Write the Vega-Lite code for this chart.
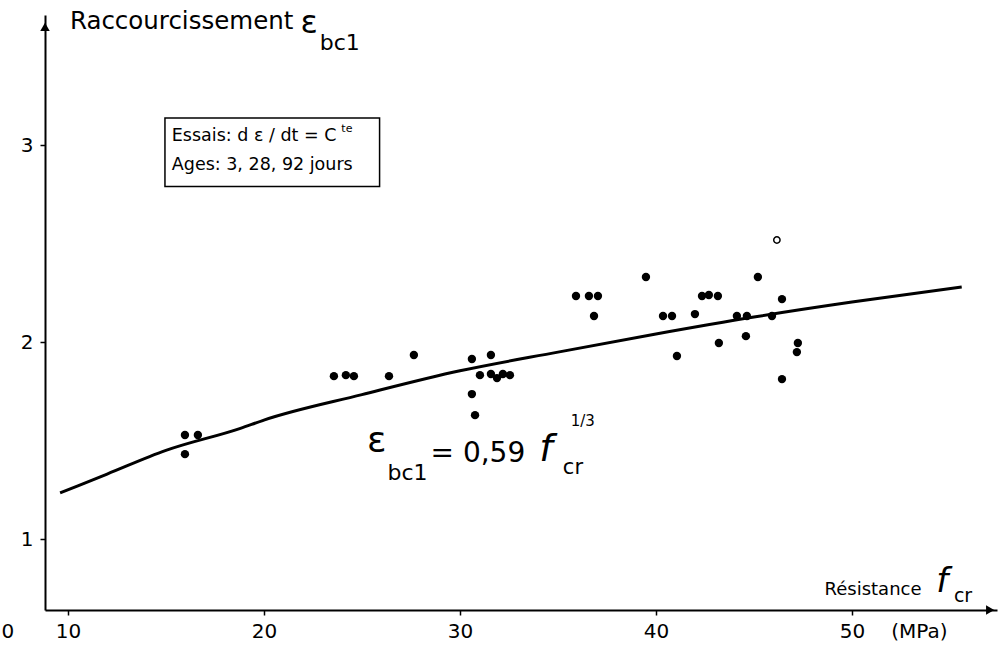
{
  "$schema": "https://vega.github.io/schema/vega-lite/v6.json",
  "autosize": "none",
  "padding": {"left": 45, "top": 15, "right": 4, "bottom": 37},
  "width": 952,
  "height": 595,
  "background": "white",
  "config": {
    "view": {"stroke": null},
    "font": "DejaVu Sans",
    "axis": {
      "grid": false,
      "domainColor": "black",
      "domainWidth": 2,
      "tickColor": "black",
      "tickWidth": 1.5,
      "tickSize": 5,
      "labelColor": "black",
      "labelFont": "DejaVu Sans",
      "labelFontSize": 20,
      "title": null
    }
  },
  "datasets": {
    "points": [
      {"fcr": 15.97, "eps": 1.528},
      {"fcr": 16.63, "eps": 1.528},
      {"fcr": 15.97, "eps": 1.431},
      {"fcr": 23.57, "eps": 1.827},
      {"fcr": 24.18, "eps": 1.832},
      {"fcr": 24.59, "eps": 1.827},
      {"fcr": 26.38, "eps": 1.827},
      {"fcr": 27.65, "eps": 1.934},
      {"fcr": 30.61, "eps": 1.914},
      {"fcr": 31.58, "eps": 1.934},
      {"fcr": 31.02, "eps": 1.832},
      {"fcr": 31.58, "eps": 1.838},
      {"fcr": 31.89, "eps": 1.817},
      {"fcr": 32.19, "eps": 1.838},
      {"fcr": 32.55, "eps": 1.832},
      {"fcr": 30.61, "eps": 1.736},
      {"fcr": 30.77, "eps": 1.629},
      {"fcr": 35.92, "eps": 2.234},
      {"fcr": 36.58, "eps": 2.234},
      {"fcr": 37.04, "eps": 2.234},
      {"fcr": 36.84, "eps": 2.132},
      {"fcr": 39.49, "eps": 2.33},
      {"fcr": 40.36, "eps": 2.132},
      {"fcr": 40.82, "eps": 2.132},
      {"fcr": 41.99, "eps": 2.142},
      {"fcr": 42.35, "eps": 2.234},
      {"fcr": 42.7, "eps": 2.239},
      {"fcr": 43.16, "eps": 2.234},
      {"fcr": 43.21, "eps": 1.995},
      {"fcr": 41.07, "eps": 1.929},
      {"fcr": 44.13, "eps": 2.132},
      {"fcr": 44.64, "eps": 2.132},
      {"fcr": 44.59, "eps": 2.03},
      {"fcr": 45.2, "eps": 2.33},
      {"fcr": 45.92, "eps": 2.132},
      {"fcr": 46.43, "eps": 2.218},
      {"fcr": 47.24, "eps": 1.995},
      {"fcr": 47.19, "eps": 1.949},
      {"fcr": 46.43, "eps": 1.812}
    ],
    "openPoints": [
      {"fcr": 46.17, "eps": 2.518}
    ],
    "curve": [
      {"fcr": 9.6, "eps": 1.234},
      {"fcr": 12, "eps": 1.33},
      {"fcr": 15, "eps": 1.45},
      {"fcr": 18.8, "eps": 1.562},
      {"fcr": 20, "eps": 1.604},
      {"fcr": 25, "eps": 1.733},
      {"fcr": 30, "eps": 1.854},
      {"fcr": 35, "eps": 1.949},
      {"fcr": 40, "eps": 2.041},
      {"fcr": 45, "eps": 2.127},
      {"fcr": 50, "eps": 2.203},
      {"fcr": 55.6, "eps": 2.279}
    ]
  },
  "layer": [
    {
      "data": {"name": "curve"},
      "mark": {"type": "line", "color": "black", "strokeWidth": 3, "interpolate": "monotone"},
      "encoding": {
        "x": {
          "field": "fcr", "type": "quantitative",
          "scale": {"domain": [8.83, 57.4], "nice": false, "zero": false},
          "axis": {"values": [10, 20, 30, 40, 50], "labelPadding": 6, "format": "d"}
        },
        "y": {
          "field": "eps", "type": "quantitative",
          "scale": {"domain": [0.64, 3.66], "nice": false, "zero": false},
          "axis": {"values": [1, 2, 3], "labelPadding": 7, "format": "d"}
        }
      }
    },
    {
      "data": {"name": "points"},
      "mark": {"type": "point", "filled": true, "color": "black", "size": 70, "opacity": 1},
      "encoding": {
        "x": {"field": "fcr", "type": "quantitative"},
        "y": {"field": "eps", "type": "quantitative"}
      }
    },
    {
      "data": {"name": "openPoints"},
      "mark": {"type": "point", "filled": false, "color": "black", "size": 40, "strokeWidth": 1.5, "opacity": 1},
      "encoding": {
        "x": {"field": "fcr", "type": "quantitative"},
        "y": {"field": "eps", "type": "quantitative"}
      }
    },
    {
      "data": {"values": [{}]},
      "mark": {"type": "point", "shape": "triangle-right", "filled": true, "color": "black", "size": 90, "opacity": 1},
      "encoding": {"x": {"datum": 57.05}, "y": {"datum": 0.64}}
    },
    {
      "data": {"values": [{}]},
      "mark": {"type": "point", "shape": "triangle-up", "filled": true, "color": "black", "size": 90, "opacity": 1},
      "encoding": {"x": {"datum": 8.83}, "y": {"datum": 3.6}}
    },
    {
      "data": {"values": [{}]},
      "mark": {"type": "rect", "fill": "white", "stroke": "black", "strokeWidth": 1.5},
      "encoding": {"x": {"datum": 14.95}, "x2": {"datum": 25.9}, "y": {"datum": 3.137}, "y2": {"datum": 2.79}}
    },
    {
      "data": {"values": [{}]},
      "mark": {"type": "text", "align": "left", "baseline": "middle", "fontSize": 17.5, "color": "black"},
      "encoding": {"x": {"datum": 15.3}, "y": {"datum": 3.045}, "text": {"value": "Essais:  d ε / dt = C"}}
    },
    {
      "data": {"values": [{}]},
      "mark": {"type": "text", "align": "left", "baseline": "middle", "fontSize": 11, "color": "black"},
      "encoding": {"x": {"datum": 23.95}, "y": {"datum": 3.08}, "text": {"value": "te"}}
    },
    {
      "data": {"values": [{}]},
      "mark": {"type": "text", "align": "left", "baseline": "middle", "fontSize": 17.5, "color": "black"},
      "encoding": {"x": {"datum": 15.3}, "y": {"datum": 2.9}, "text": {"value": "Ages: 3, 28, 92 jours"}}
    },
    {
      "data": {"values": [{}]},
      "mark": {"type": "text", "align": "left", "baseline": "middle", "fontSize": 24.5, "color": "black"},
      "encoding": {"x": {"datum": 10.1}, "y": {"datum": 3.624}, "text": {"value": "Raccourcissement"}}
    },
    {
      "data": {"values": [{}]},
      "mark": {"type": "text", "align": "center", "baseline": "middle", "fontSize": 32, "color": "black"},
      "encoding": {"x": {"datum": 22.3}, "y": {"datum": 3.62}, "text": {"value": "ε"}}
    },
    {
      "data": {"values": [{}]},
      "mark": {"type": "text", "align": "left", "baseline": "middle", "fontSize": 22, "color": "black"},
      "encoding": {"x": {"datum": 22.85}, "y": {"datum": 3.52}, "text": {"value": "bc1"}}
    },
    {
      "data": {"values": [{}]},
      "mark": {"type": "text", "align": "left", "baseline": "middle", "fontSize": 18, "color": "black"},
      "encoding": {"x": {"datum": 48.6}, "y": {"datum": 0.74}, "text": {"value": "Résistance"}}
    },
    {
      "data": {"values": [{}]},
      "mark": {"type": "text", "align": "left", "baseline": "middle", "fontSize": 34, "fontStyle": "italic", "color": "black"},
      "encoding": {"x": {"datum": 54.3}, "y": {"datum": 0.78}, "text": {"value": "f"}}
    },
    {
      "data": {"values": [{}]},
      "mark": {"type": "text", "align": "left", "baseline": "middle", "fontSize": 19, "color": "black"},
      "encoding": {"x": {"datum": 55.2}, "y": {"datum": 0.71}, "text": {"value": "cr"}}
    },
    {
      "data": {"values": [{}]},
      "mark": {"type": "text", "align": "center", "baseline": "middle", "fontSize": 20, "color": "black"},
      "encoding": {"x": {"datum": 6.94}, "y": {"datum": 0.53}, "text": {"value": "0"}}
    },
    {
      "data": {"values": [{}]},
      "mark": {"type": "text", "align": "left", "baseline": "middle", "fontSize": 20, "color": "black"},
      "encoding": {"x": {"datum": 52.0}, "y": {"datum": 0.53}, "text": {"value": "(MPa)"}}
    },
    {
      "data": {"values": [{}]},
      "mark": {"type": "text", "align": "center", "baseline": "middle", "fontSize": 36, "color": "black"},
      "encoding": {"x": {"datum": 25.75}, "y": {"datum": 1.5}, "text": {"value": "ε"}}
    },
    {
      "data": {"values": [{}]},
      "mark": {"type": "text", "align": "left", "baseline": "middle", "fontSize": 22, "color": "black"},
      "encoding": {"x": {"datum": 26.3}, "y": {"datum": 1.335}, "text": {"value": "bc1"}}
    },
    {
      "data": {"values": [{}]},
      "mark": {"type": "text", "align": "left", "baseline": "middle", "fontSize": 28, "color": "black"},
      "encoding": {"x": {"datum": 28.5}, "y": {"datum": 1.43}, "text": {"value": "= 0,59"}}
    },
    {
      "data": {"values": [{}]},
      "mark": {"type": "text", "align": "left", "baseline": "middle", "fontSize": 38, "fontStyle": "italic", "color": "black"},
      "encoding": {"x": {"datum": 34.05}, "y": {"datum": 1.45}, "text": {"value": "f"}}
    },
    {
      "data": {"values": [{}]},
      "mark": {"type": "text", "align": "left", "baseline": "middle", "fontSize": 15, "color": "black"},
      "encoding": {"x": {"datum": 35.65}, "y": {"datum": 1.6}, "text": {"value": "1/3"}}
    },
    {
      "data": {"values": [{}]},
      "mark": {"type": "text", "align": "left", "baseline": "middle", "fontSize": 21, "color": "black"},
      "encoding": {"x": {"datum": 35.25}, "y": {"datum": 1.36}, "text": {"value": "cr"}}
    }
  ]
}
